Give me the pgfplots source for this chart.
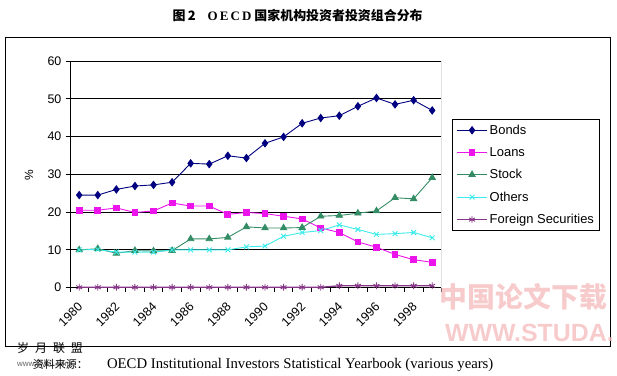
\documentclass[border=0pt]{standalone}
\usepackage{pgfplots}
\pgfplotsset{compat=1.18}
\usepackage{fontspec}
\setmainfont{Liberation Serif}
\newfontfamily\arial{Liberation Sans}
\newfontfamily\cjk{Noto Sans CJK SC}
\definecolor{bondc}{RGB}{0,0,128}
\definecolor{loanc}{RGB}{235,20,235}
\definecolor{stockc}{RGB}{51,140,100}
\definecolor{otherc}{RGB}{60,235,235}
\definecolor{foreignc}{RGB}{135,55,135}
\definecolor{wm}{RGB}{245,190,190}
\begin{document}
\begin{tikzpicture}
\path (0,0) rectangle (617bp,-376bp);
\node[font=\fontsize{13}{15}\selectfont] at (298bp,-16bp) {\cjk\bfseries 图\,2\hspace{12bp}{\rmfamily\bfseries O\,E\,C\,D} 国家机构投资者投资组合分布};
\draw[line width=0.8bp] (5.5bp,-37bp) rectangle (611.5bp,-347bp);
\begin{axis}[
  at={(70bp,-288bp)}, anchor=south west,
  scale only axis, width=372bp, height=227bp,
  xmin=-0.5, xmax=19.5, ymin=0, ymax=60,
  axis lines*=left, axis line style={line width=0.8bp, -},
  ytick={0,10,...,60}, ymajorgrids, grid style={black, line width=0.8bp},
  xtick={-0.5,0.5,...,19.5}, xticklabels={},
  extra x ticks={0,2,...,18},
  extra x tick labels={1980,1982,1984,1986,1988,1990,1992,1994,1996,1998},
  extra x tick style={major tick length=0pt, grid=none, xticklabel style={rotate=45, anchor=north east, xshift=-8bp, yshift=-5bp}},
  tick align=outside, major tick length=4bp, tick style={black, line width=0.8bp},
  ticklabel style={font=\arial\fontsize{12.5}{14}\selectfont},
  yticklabel style={xshift=-1bp},
  /pgf/number format/assume math mode=true,
  legend style={at={(1.0296,0.744)}, anchor=north west, draw=black, line width=0.8bp,
    font=\arial\fontsize{13}{14}\selectfont, row sep=7.6bp, inner sep=3.5bp,
    /tikz/every even column/.append style={column sep=2bp}},
  legend cell align=left,
  legend image code/.code={\draw[mark repeat=2,mark phase=2] plot coordinates {(0cm,0cm) (0.53cm,0cm) (1.06cm,0cm)};},
  every axis plot/.append style={line width=0.9bp},
]
\addplot[bondc, mark=diamond*, mark size=3.6bp, mark options={fill=bondc}] coordinates {
(0,24.5)(1,24.5)(2,26.0)(3,26.9)(4,27.2)(5,27.9)(6,32.9)(7,32.7)(8,34.9)(9,34.3)
(10,38.2)(11,39.9)(12,43.5)(13,44.9)(14,45.5)(15,48.0)(16,50.2)(17,48.5)(18,49.6)(19,46.9)};
\addlegendentry{Bonds}
\addplot[loanc, mark=square*, mark size=2.9bp, mark options={fill=loanc}] coordinates {
(0,20.5)(1,20.5)(2,21.1)(3,19.9)(4,20.3)(5,22.4)(6,21.6)(7,21.6)(8,19.4)(9,19.9)
(10,19.6)(11,18.9)(12,18.2)(13,15.8)(14,14.6)(15,12.1)(16,10.7)(17,8.8)(18,7.4)(19,6.7)};
\addlegendentry{Loans}
\addplot[stockc, mark=triangle*, mark size=3.6bp, mark options={fill=stockc}] coordinates {
(0,10.0)(1,10.3)(2,9.1)(3,9.8)(4,9.7)(5,9.8)(6,12.9)(7,12.9)(8,13.3)(9,16.1)
(10,15.8)(11,15.8)(12,15.9)(13,18.9)(14,19.1)(15,19.7)(16,20.3)(17,23.8)(18,23.5)(19,29.1)};
\addlegendentry{Stock}
\addplot[otherc, mark=x, mark size=3.4bp] coordinates {
(0,10.0)(1,10.1)(2,9.4)(3,9.4)(4,9.4)(5,10.0)(6,10.0)(7,10.0)(8,10.0)(9,10.8)
(10,11.0)(11,13.6)(12,14.6)(13,15.1)(14,16.6)(15,15.4)(16,14.1)(17,14.3)(18,14.6)(19,13.2)};
\addlegendentry{Others}
\addplot[foreignc, mark=asterisk, mark size=3.4bp, line width=1.3bp, mark options={line width=0.9bp}] coordinates {
(0,0.1)(1,0.1)(2,0.1)(3,0.1)(4,0.1)(5,0.1)(6,0.1)(7,0.1)(8,0.1)(9,0.1)
(10,0.1)(11,0.1)(12,0.1)(13,0.1)(14,0.5)(15,0.5)(16,0.5)(17,0.5)(18,0.5)(19,0.5)};
\addlegendentry{Foreign Securities}
\draw[gray!70, line width=0.8bp] (rel axis cs:1,0) -- (rel axis cs:1,1);
\end{axis}
\node[rotate=90, font=\arial\fontsize{12}{14}\selectfont] at (29bp,-175bp) {\%};
\node[font=\fontsize{28}{30}\selectfont\bfseries, text=wm, opacity=0.8] at (524bp,-297bp) {\cjk 中国论文下载};
\node[font=\arial\fontsize{25}{27}\selectfont\bfseries, text=wm, opacity=0.8] at (530bp,-333bp) {WWW.STUDA.};
\node[font=\fontsize{12}{13}\selectfont, anchor=west, inner sep=0pt] at (17bp,-348bp) {\cjk 岁\hspace{6bp}月\hspace{6bp}联\hspace{6bp}盟};
\node[font=\fontsize{8}{9}\selectfont, anchor=west, text=black!60, inner sep=0pt] at (17bp,-365bp) {\arial www.Sysu.com};
\node[font=\fontsize{11}{12}\selectfont, anchor=east, inner sep=0pt] at (88bp,-365bp) {\cjk 资料来源：};
\node[font=\fontsize{14.8}{16}\selectfont, anchor=west, inner sep=0pt] at (107bp,-365bp) {OECD Institutional Investors Statistical Yearbook (various years)};
\end{tikzpicture}
\end{document}
